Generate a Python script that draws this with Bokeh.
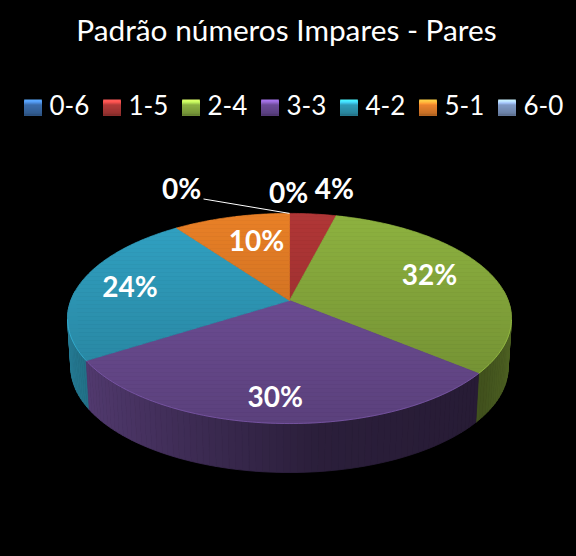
import math
from bokeh.plotting import figure
from bokeh.models import Range1d, Legend, LegendItem
from bokeh.embed import file_html
from bokeh.resources import INLINE

title_text = "Padrão números Impares - Pares"
categories = ["0-6", "1-5", "2-4", "3-3", "4-2", "5-1", "6-0"]
values = [0, 4, 32, 30, 24, 10, 0]
slice_colors = ["#3f72ae", "#aa3434", "#88ab3d", "#71509a", "#2f9cbc", "#e07b25", "#7f97c4"]
swatch_colors = ["#3a6ba8", "#b03a38", "#8aae42", "#6a4a96", "#2f99b5", "#e8822c", "#7e97c2"]
wall_gain = [1, 1, 1.4, 1, 1, 1, 1]

# chart geometry in page pixels
TITLE_BAND, FRAME_W, FRAME_H = 47, 572, 501
CX, CY, R, S, K, DEPTH, BOTTOM_SCALE = 289, 300, 218.7, 102, 0.171, 49, 0.985

def rgb(c):
    return [int(c[i:i + 2], 16) for i in (1, 3, 5)]

def shade(c, f):
    return "#%02x%02x%02x" % tuple(min(255, max(0, int(round(v * f)))) for v in rgb(c))

def project(u, v):
    w = 1 - K * v
    return CX + R * u / w, CY + S * v / w

def rim(a):
    return project(math.sin(a), -math.cos(a))

def rim_bottom(a):
    x, y = rim(a)
    return CX + (x - CX) * BOTTOM_SCALE, y + DEPTH

def clip(poly, y0, y1):
    def cut(points, inside, yc):
        out = []
        for i, p in enumerate(points):
            q = points[(i + 1) % len(points)]
            if inside(p):
                out.append(p)
            if inside(p) != inside(q):
                t = (yc - p[1]) / (q[1] - p[1])
                out.append((p[0] + t * (q[0] - p[0]), yc))
        return out
    poly = cut(poly, lambda p: p[1] >= y0, y0)
    return cut(poly, lambda p: p[1] <= y1, y1) if poly else poly

def side_factor(u):
    pts = [(-1, 0.8), (-0.85, 0.72), (-0.4, 0.55), (0.1, 0.38), (0.8, 0.34), (1, 0.42)]
    for (a, fa), (b, fb) in zip(pts, pts[1:]):
        if u <= b:
            return fa + (fb - fa) * (u - a) / (b - a)
    return pts[-1][1]

total = sum(values)
edges = [0]
for val in values:
    edges.append(edges[-1] + val / total * 2 * math.pi)

p = figure(output_backend="svg", toolbar_location=None, frame_width=FRAME_W, frame_height=FRAME_H,
           min_border=0, min_border_top=TITLE_BAND,
           x_range=Range1d(0, FRAME_W),
           y_range=Range1d(TITLE_BAND + FRAME_H, TITLE_BAND),
           x_axis_type=None, y_axis_type=None,
           background_fill_color="#000000", border_fill_color="#000000", outline_line_color=None)
p.grid.visible = False
p.title.text = title_text
p.title.align = "center"
p.title.offset = 3
p.title.text_color = "#ffffff"
p.title.text_font = "Lato"
p.title.text_font_size = "29.8px"
p.title.text_font_style = "normal"
p.title.standoff = 2

# side wall strips, back to front
strips = []
for i, val in enumerate(values):
    if val == 0:
        continue
    a0, a1 = edges[i], edges[i + 1]
    n = max(2, int((a1 - a0) / math.radians(1.5)))
    for j in range(n):
        s0, s1 = a0 + (a1 - a0) * j / n, a0 + (a1 - a0) * (j + 1) / n
        mid = (s0 + s1) / 2
        if -math.cos(mid) < -0.1:
            continue
        t0, t1, b1, b0 = rim(s0), rim(s1), rim_bottom(s1), rim_bottom(s0)
        f = side_factor(math.sin(mid)) * wall_gain[i]
        strips.append((-math.cos(mid), [t0, t1, b1, b0], shade(slice_colors[i], f)))
strips.sort(key=lambda st: st[0])
p.patches([[q[0] for q in st[1]] for st in strips], [[q[1] for q in st[1]] for st in strips],
          fill_color=[st[2] for st in strips], line_color=[st[2] for st in strips], line_width=0.8)

# top face in horizontal bands so it darkens downward
xs, ys, cs = [], [], []
BAND = 4
for i, val in enumerate(values):
    if val == 0:
        continue
    a0, a1 = edges[i], edges[i + 1]
    n = max(4, int((a1 - a0) / math.radians(1)))
    poly = [(CX, CY)] + [rim(a0 + (a1 - a0) * j / n) for j in range(n + 1)]
    y = 212
    while y < 425:
        part = clip(poly, y, y + BAND)
        if len(part) >= 3:
            f = 1.04 - 0.24 * (y - 212) / 212
            xs.append([q[0] for q in part])
            ys.append([q[1] for q in part])
            cs.append(shade(slice_colors[i], f))
        y += BAND
p.patches(xs, ys, fill_color=cs, line_color=cs, line_width=0.7)

# thin lit edge along the front rim
for i, val in enumerate(values):
    if val == 0:
        continue
    a0, a1 = edges[i], edges[i + 1]
    n = max(4, int((a1 - a0) / math.radians(1)))
    pts = [rim(a0 + (a1 - a0) * j / n) for j in range(n + 1)]
    pts = [q for q in pts if q[1] > 318]
    if len(pts) > 1:
        p.line([q[0] for q in pts], [q[1] for q in pts], line_color=shade(slice_colors[i], 1.25),
               line_width=1, line_alpha=0.55)

# percentage labels: anchored in their slice, then moved as in the reference
label_dx = [-1, 30, 19, -5, -33, 4, -108]
label_dy = [-53, -57, -8, 27, -3, -7, -57]
lx, ly, lt = [], [], []
for i, val in enumerate(values):
    m = (edges[i] + edges[i + 1]) / 2
    ax, ay = project(0.6 * math.sin(m), -0.6 * math.cos(m))
    lx.append(ax + label_dx[i])
    ly.append(ay + label_dy[i])
    lt.append(f"{val}%")
p.text(lx, ly, text=lt, text_color="#ffffff", text_font_style="bold", text_font_size="28px",
       text_align="center", text_baseline="middle", text_font={"value": "Lato"})

# leader of the last zero slice
top_x, top_y = rim(edges[-1])
p.line([lx[-1] + 22, top_x], [ly[-1] + 11, top_y], line_color="#ffffff", line_width=1)

# legend: the bevelled swatches below show through its transparent glyphs
LEG_X, LEG_Y, LEG_STEP, GLYPH_W, GLYPH_H, STANDOFF = 21.5, 427, 79, 22, 20, 6
nan = float("nan")
items = []
for cat, col in zip(categories, swatch_colors):
    r = p.quad(left=[nan], right=[nan], top=[nan], bottom=[nan], fill_color=col, fill_alpha=0, line_color=None)
    items.append(LegendItem(label={"value": cat}, renderers=[r]))
legend = Legend(items=items, orientation="horizontal", location=(LEG_X, LEG_Y), padding=0, margin=0, spacing=0,
                glyph_width=GLYPH_W, glyph_height=GLYPH_H, label_standoff=STANDOFF,
                label_width=LEG_STEP - GLYPH_W - STANDOFF, label_height=28,
                label_text_font="Lato", label_text_font_size="26px", label_text_color="#ffffff",
                background_fill_alpha=0, border_line_color=None)
p.add_layout(legend)

# legend swatches, lit at the top and darker at the foot; each row is painted over the one before
row_light = [1.6, 1.55, 1.45, 1.3, 1.15, 1.0, 1.0, 0.98, 0.96, 0.94, 0.92, 0.9, 0.88, 0.86, 0.8, 0.72]
sw_top = TITLE_BAND + FRAME_H - LEG_Y - 14 - 8
sw_bottom = sw_top + len(row_light)
sl, sr, st_, sb, sc = [], [], [], [], []
for i, col in enumerate(swatch_colors):
    left = LEG_X + 0.1 * GLYPH_W + i * LEG_STEP
    for k, f in enumerate(row_light):
        sl.append(left)
        sr.append(left + 0.8 * GLYPH_W)
        st_.append(sw_top + k)
        sb.append(sw_bottom)
        sc.append(shade(col, f))
p.quad(left=sl, right=sr, top=st_, bottom=sb, fill_color=sc, line_color=None)

html = file_html(p, INLINE)
html = html.replace("</head>", "<style>html,body{background:#000000;}</style></head>", 1)
open("out.html", "w").write(html)
